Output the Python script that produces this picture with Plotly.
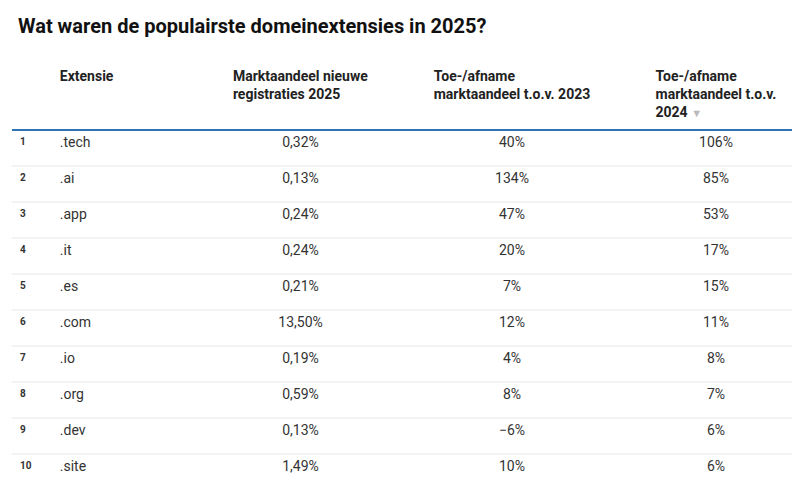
import plotly.graph_objects as go

rank = ["1", "2", "3", "4", "5", "6", "7", "8", "9", "10"]
extensie = [".tech", ".ai", ".app", ".it", ".es", ".com", ".io", ".org", ".dev", ".site"]
aandeel_2025 = ["0,32%", "0,13%", "0,24%", "0,24%", "0,21%", "13,50%", "0,19%", "0,59%", "0,13%", "1,49%"]
tov_2023 = ["40%", "134%", "47%", "20%", "7%", "12%", "4%", "8%", "−6%", "10%"]
tov_2024 = ["106%", "85%", "53%", "17%", "15%", "11%", "8%", "7%", "6%", "6%"]

headers = ["", "<br><br>Extensie", "<br>Marktaandeel nieuwe<br>registraties 2025",
           "<br>Toe-/afname<br>marktaandeel t.o.v. 2023",
           "Toe-/afname<br>marktaandeel t.o.v.<br>2024 <span style='color:#bbbbbb;font-size:11px'>▼</span>"]

head_top = 52
row_h = 36

fig = go.Figure(go.Table(
    columnwidth=[40, 150, 200, 225, 185],
    header=dict(
        values=["<b>%s</b>" % h if h else "" for h in headers],
        align=["left", "left", "center", "center", "center"],
        font=dict(family="Roboto", size=14, color="#222222"),
        fill_color="white", line_color="white", height=64,
    ),
    cells=dict(
        values=[["<b>%s</b>" % r for r in rank], extensie, aandeel_2025, tov_2023, tov_2024],
        align=["left", "left", "center", "center", "center"],
        font=dict(family="Roboto", size=[10, 14, 14, 14, 14], color="#333333"),
        fill_color="white", line=dict(color="white", width=1), height=row_h,
    ),
    domain=dict(x=[0.005, 1], y=[0, 1 - head_top / 482]),
))

line_y = 122
fig.add_shape(type="line", xref="paper", yref="paper", x0=0.005, x1=1,
              y0=1 - line_y / 482, y1=1 - line_y / 482, line=dict(color="#2f73b5", width=2))
for k in range(1, len(rank)):
    yy = 1 - (line_y + row_h * k) / 482
    fig.add_shape(type="line", xref="paper", yref="paper", x0=0.005, x1=1,
                  y0=yy, y1=yy, line=dict(color="#e6e6e6", width=1))

fig.update_layout(
    width=800, height=482, margin=dict(l=0, r=0, t=0, b=0),
    paper_bgcolor="white",
    annotations=[dict(text="<b>Wat waren de populairste domeinextensies in 2025?</b>",
                      x=0.01, y=1 - 18 / 482, xref="paper", yref="paper", xanchor="left",
                      yanchor="middle", showarrow=False,
                      font=dict(family="Roboto", size=20, color="#111111"))],
)

fig.write_html("out.html")
